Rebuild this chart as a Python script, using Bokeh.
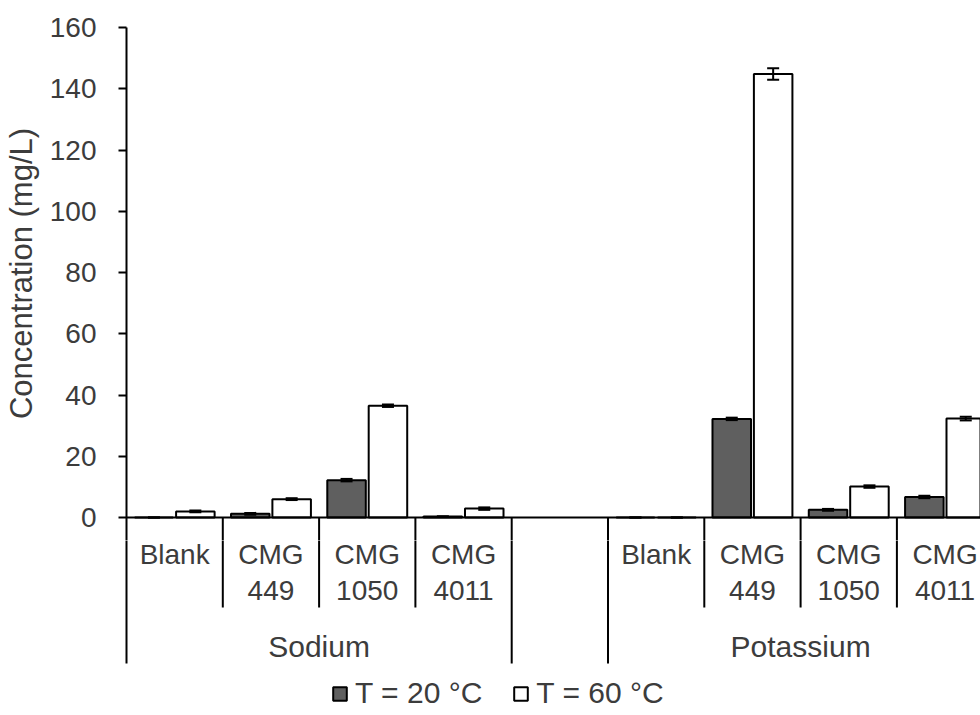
from bokeh.plotting import figure
from bokeh.layouts import column
from bokeh.models import (Range1d, FixedTicker, ColumnDataSource, Whisker, TeeHead,
                          Span, Legend, LegendItem)
from bokeh.embed import file_html
from bokeh.resources import INLINE
from bokeh.core.properties import value

# ---------------- data ----------------
groups = ["Sodium", "Potassium"]
items = ["Blank", "CMG 449", "CMG 1050", "CMG 4011"]
series = ["T = 20 °C", "T = 60 °C"]

sodium_20 = [0.0, 1.2, 12.2, 0.3]
sodium_60 = [2.0, 6.0, 36.5, 2.9]
potassium_20 = [0.0, 32.2, 2.5, 6.7]
potassium_60 = [0.0, 144.8, 10.1, 32.3]

sodium_20_err = [0.0, 0.3, 0.4, 0.1]
sodium_60_err = [0.3, 0.3, 0.4, 0.4]
potassium_20_err = [0.0, 0.4, 0.3, 0.4]
potassium_60_err = [0.0, 1.9, 0.4, 0.6]

y_ticks = [0, 20, 40, 60, 80, 100, 120, 140, 160]

# ---------------- styling ----------------
FONT = "Liberation Sans"
TXT = "#3c3c3c"
DARK = "#5f5f5f"

PX = 490 / 160.0          # pixels per data unit
TOP160_PX = 27                  # pixel row of y = 160
ZERO_PX = TOP160_PX + 490       # pixel row of y = 0
FRAME_TOP_PX = 6                # frame starts a bit above 160 so the title is centred on 0-160
SPLIT_PX = 540                  # where the upper figure ends
MAIN_H = SPLIT_PX
LOW_H = 715 - MAIN_H
split_y = -(SPLIT_PX - ZERO_PX) / PX
y_top = 160 + (TOP160_PX - FRAME_TOP_PX) / PX

n_items = len(items)
slots_per_group = n_items + 1  # one empty slot between groups

vals_20 = [sodium_20, potassium_20]
vals_60 = [sodium_60, potassium_60]
errs_20 = [sodium_20_err, potassium_20_err]
errs_60 = [sodium_60_err, potassium_60_err]

x20, x60, t20, t60, e20, e60 = [], [], [], [], [], []
centers, line1, line2 = [], [], []
short_sep, long_sep = [], []
group_centers = []
OFF = 0.215
for g in range(len(groups)):
    base = g * slots_per_group
    for i in range(n_items):
        c = base + i + 0.5
        centers.append(c)
        parts = items[i].split(" ")
        line1.append(parts[0])
        line2.append(parts[1] if len(parts) > 1 else "")
        x20.append(c - OFF)
        x60.append(c + OFF)
        t20.append(vals_20[g][i])
        t60.append(vals_60[g][i])
        e20.append(errs_20[g][i])
        e60.append(errs_60[g][i])
        if i > 0:
            short_sep.append(base + i)
    long_sep.append(base + n_items)
    if g > 0:
        long_sep.append(base)
    group_centers.append(base + n_items / 2.0)

x_range = Range1d(0, (980 - 126) / 96.3)

ROW1_Y = -37 / PX
ROW2_Y = -73 / PX
GROUP_Y = -129 / PX
SHORT_Y = -90 / PX
LONG_Y = -146 / PX


def style_axis(ax):
    ax.axis_line_color = "black"
    ax.axis_line_width = 2
    ax.major_tick_line_color = "black"
    ax.major_tick_line_width = 2
    ax.major_tick_out = 8
    ax.major_tick_in = 0
    ax.minor_tick_line_color = None


def add_separators(fig):
    fig.segment(x0=short_sep, x1=short_sep, y0=[0] * len(short_sep),
                y1=[SHORT_Y] * len(short_sep), line_color="black", line_width=2)
    fig.segment(x0=long_sep, x1=long_sep, y0=[0] * len(long_sep),
                y1=[LONG_Y] * len(long_sep), line_color="black", line_width=2)


# ---------------- main plot ----------------
p = figure(width=980, height=MAIN_H, output_backend="svg", toolbar_location=None,
           x_range=x_range, y_range=Range1d(split_y, y_top),
           min_border_left=126, min_border_right=0, min_border_top=FRAME_TOP_PX,
           min_border_bottom=0)
p.outline_line_color = None
p.grid.visible = False
p.xaxis.visible = False

yax = p.yaxis[0]
style_axis(yax)
yax.bounds = (split_y, 160)
yax.ticker = FixedTicker(ticks=y_ticks)
yax.major_label_standoff = 22
yax.major_label_text_font = FONT
yax.major_label_text_font_size = "28px"
yax.major_label_text_color = TXT
yax.axis_label = "Concentration (mg/L)"
yax.axis_label_text_font = FONT
yax.axis_label_text_font_size = "31px"
yax.axis_label_text_font_style = "normal"
yax.axis_label_text_color = TXT
yax.axis_label_standoff = 8

bar_w = 0.40
src20 = ColumnDataSource(dict(x=x20, top=t20, upper=[a + b for a, b in zip(t20, e20)],
                              lower=[a - b for a, b in zip(t20, e20)]))
src60 = ColumnDataSource(dict(x=x60, top=t60, upper=[a + b for a, b in zip(t60, e60)],
                              lower=[a - b for a, b in zip(t60, e60)]))

p.vbar(x="x", top="top", bottom=0, width=bar_w, source=src20,
       fill_color=DARK, line_color="black", line_width=2)
p.vbar(x="x", top="top", bottom=0, width=bar_w, source=src60,
       fill_color="white", line_color="black", line_width=2)

for s in (src20, src60):
    p.add_layout(Whisker(source=s, base="x", upper="upper", lower="lower", level="overlay",
                         line_color="black", line_width=2,
                         upper_head=TeeHead(size=12, line_width=2, line_color="black"),
                         lower_head=TeeHead(size=12, line_width=2, line_color="black")))

p.add_layout(Span(location=0, dimension="width", line_color="black", line_width=2))
add_separators(p)

# ---------------- multi-level category axis + legend ----------------
q = figure(width=980, height=LOW_H, output_backend="svg", toolbar_location=None,
           x_range=x_range, y_range=Range1d(split_y - LOW_H / PX, split_y),
           min_border_left=126, min_border_right=0, min_border_top=0, min_border_bottom=0)
q.outline_line_color = None
q.grid.visible = False
q.xaxis.visible = False
qax = q.yaxis[0]
style_axis(qax)
qax.ticker = FixedTicker(ticks=[])
qax.major_label_text_font_size = "0px"
qax.bounds = (LONG_Y, split_y)

add_separators(q)

q.text(x=centers, y=[ROW1_Y] * len(centers), text=line1, text_align="center",
       text_baseline="middle", text_font=value(FONT), text_font_size="28px", text_color=TXT)
q.text(x=centers, y=[ROW2_Y] * len(centers), text=line2, text_align="center",
       text_baseline="middle", text_font=value(FONT), text_font_size="28px", text_color=TXT)
q.text(x=group_centers, y=[GROUP_Y] * len(group_centers), text=groups, text_align="center",
       text_baseline="middle", text_font=value(FONT), text_font_size="30px", text_color=TXT)

# legend swatches (same styling as the bars; no visible data)
nan = float("nan")
l20 = q.vbar(x=[nan], top=[nan], width=bar_w, fill_color=DARK, line_color="black", line_width=2)
l60 = q.vbar(x=[nan], top=[nan], width=bar_w, fill_color="white", line_color="black", line_width=2)
legend = Legend(items=[LegendItem(label=series[0], renderers=[l20]),
                       LegendItem(label=series[1], renderers=[l60])],
                orientation="horizontal", location=(205, 5),
                border_line_color=None, background_fill_alpha=0,
                padding=0, margin=0, spacing=30, glyph_width=17, glyph_height=17,
                label_standoff=7, label_text_font=FONT, label_text_font_size="30px",
                label_text_color=TXT)
q.add_layout(legend, "center")

layout = column(p, q, spacing=0)
open("out.html", "w").write(file_html(layout, INLINE))
